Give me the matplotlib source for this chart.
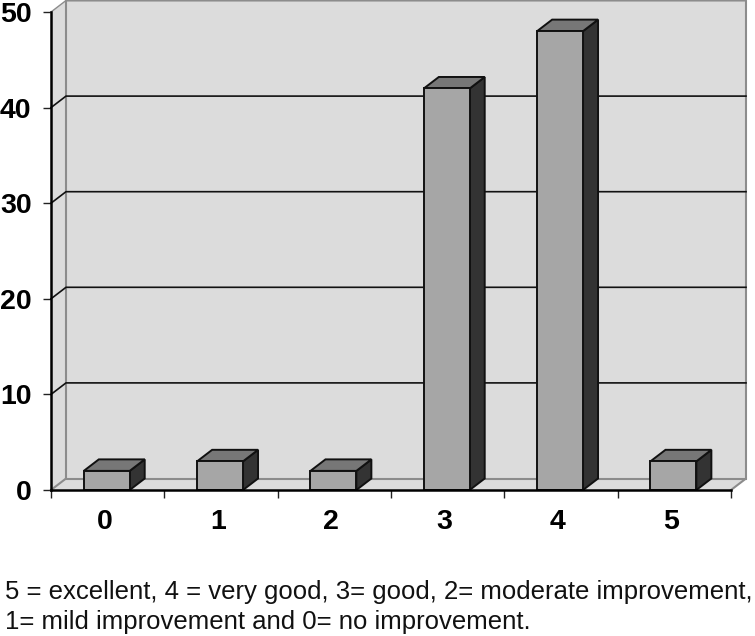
import matplotlib; matplotlib.use("Agg")
import matplotlib.pyplot as plt
from matplotlib.patches import Polygon
from matplotlib.transforms import ScaledTranslation

categories=[0,1,2,3,4,5]
values=[2,3,2,42,48,3]
y_ticks=[0,10,20,30,40,50]
caption=["5 = excellent, 4 = very good, 3= good, 2= moderate improvement,","1= mild improvement and 0= no improvement."]

WALL="#dcdcdc"; EDGE="#8c8c8c"; FRONT="#a6a6a6"; TOP="#777777"; SIDE="#333333"
plt.rcParams["font.family"]=["Liberation Sans","DejaVu Sans"]
W,H=755,636
fig=plt.figure(figsize=(W/100,H/100),dpi=100,facecolor="white")
ax=fig.add_axes([51/W,(H-490)/H,680/W,478/H])
ax.set_xlim(-0.5,5.5); ax.set_ylim(0,50)
DX=15/(680/6); DY=11.5/(478/50)  # 3d depth in data units
BW=0.405
L,R=-0.5,5.5

def poly(pts,fc,ec="none",lw=0,z=1):
    ax.add_patch(Polygon(pts,closed=True,fc=fc,ec=ec,lw=lw,zorder=z,clip_on=False,joinstyle="miter"))

# walls and floor
poly([(L+DX,DY),(R+DX,DY),(R+DX,50+DY),(L+DX,50+DY)],WALL)
poly([(L,0),(L+DX,DY),(L+DX,50+DY),(L,50)],WALL)
poly([(L,0),(R,0),(R+DX,DY),(L+DX,DY)],WALL)
ax.plot([L,L+DX,L+DX,R+DX,R+DX,R],[0,DY,50+DY,50+DY,DY,0],color=EDGE,lw=1.5,clip_on=False,zorder=2)
ax.plot([L,L+DX],[50,50+DY],color=EDGE,lw=1,clip_on=False,zorder=2)
ax.plot([L+DX,R+DX],[DY,DY],color=EDGE,lw=1.5,clip_on=False,zorder=2)

# gridlines on the back wall, running down the side wall
for t in y_ticks[1:-1]:
    ax.plot([L,L+DX,R+DX],[t,t+DY,t+DY],color="#111111",lw=1.2,clip_on=False,zorder=3)

# bars
for c,v in zip(categories,values):
    x0,x1=c-BW/2-0.008,c+BW/2-0.008
    poly([(x1,0),(x1+DX,DY),(x1+DX,v+DY),(x1,v)],SIDE,"#111111",1.4,z=4)
    poly([(x0,v),(x1,v),(x1+DX,v+DY),(x0+DX,v+DY)],TOP,"#111111",1.4,z=4)
    poly([(x0,0),(x1,0),(x1,v),(x0,v)],FRONT,"#111111",1.4,z=5)

for s in ["top","right"]: ax.spines[s].set_visible(False)
for s in ["left","bottom"]:
    ax.spines[s].set_linewidth(1.8); ax.spines[s].set_zorder(6)
ax.patch.set_visible(False)
ax.set_yticks(y_ticks)
ax.set_yticklabels(y_ticks,fontsize=20.5,fontweight="bold")
ax.set_xticks([L+i for i in range(7)],labels=[])
ax.set_xticks(categories,labels=categories,minor=True,fontsize=20.5,fontweight="bold")
ax.tick_params(axis="x",which="major",length=6,width=1,color="#222222")
ax.tick_params(axis="x",which="minor",length=0,pad=13.5)
ax.tick_params(axis="y",length=6,width=1,color="#222222",pad=8)
shift=ScaledTranslation(-3/100,0,fig.dpi_scale_trans)
for lab in ax.get_xticklabels(minor=True):
    lab.set_transform(lab.get_transform()+shift)

for i,line in enumerate(caption):
    fig.text(5/W,1-(592.5+i*29)/H,line,fontsize=18.5,color="#111111",va="center",ha="left")
fig.savefig("out.png",dpi=100,facecolor="white")
